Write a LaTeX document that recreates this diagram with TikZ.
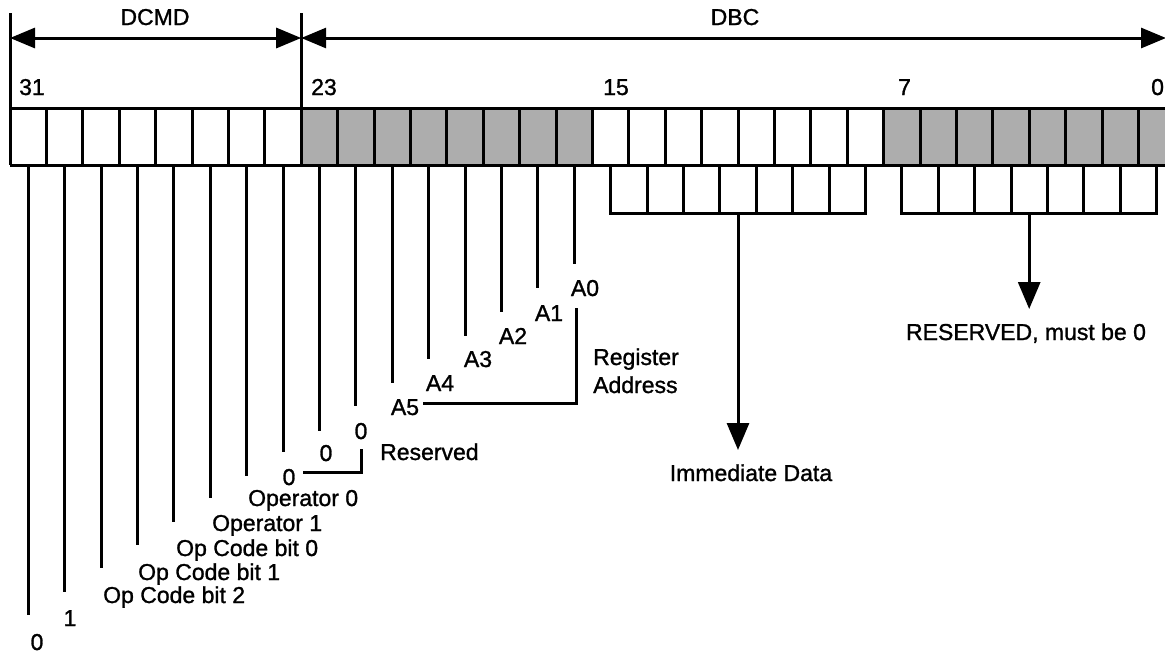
\documentclass[tikz,border=0pt]{standalone}
\usepackage{fontspec}
\setmainfont{Liberation Sans}
\newfontfamily\lblfont{Liberation Sans}[FakeBold=1.2]
\usetikzlibrary{arrows.meta,calc}
\begin{document}
\begin{tikzpicture}[x=1pt,y=-1pt,
  reg/.style={line width=3pt},
  lead/.style={line width=3pt},
  lbl/.style={font=\lblfont\fontsize{23}{27}\selectfont, inner sep=0pt},
  spanarrow/.style={line width=3pt,{Triangle[length=25pt,width=20pt]}-{Triangle[length=25pt,width=20pt]}},
  downarrow/.style={line width=3pt,-{Triangle[length=27pt,width=22pt]}},
  shade/.style={fill=black!32}
]
\useasboundingbox (0,0) rectangle (1165,654);
\clip (0,0) rectangle (1165,654);

% shaded fields
\fill[shade] (301.2,108) rectangle (592.4,165);
\fill[shade] (883.6,108) rectangle (1180,165);

% register row
\draw[reg] (10,108) -- (1180,108) (10,165) -- (1180,165);
\foreach \i in {0,...,32} \draw[reg] ({10+\i*36.4},108) -- ({10+\i*36.4},165);

% field extent ticks and arrows
\coordinate (k31) at (10,13);
\coordinate (k23) at (301.2,13);
\coordinate (r31) at (10,108);
\coordinate (r23) at (301.2,108);
\draw[reg] (k31) -- (r31);
\draw[reg] (k23) -- (r23);
\coordinate (aL) at (10,38);
\coordinate (aM) at (301.2,38);
\coordinate (aR) at (1166,38);
\draw[spanarrow] (aL) -- (aM);
\draw[spanarrow] (aM) -- (aR);
\node[lbl,anchor=base] (dcmd) at (155,25) {DCMD};
\node[lbl,anchor=base] (dbc) at (735,25) {DBC};

% bit numbers
\node[lbl,anchor=base west] (n31) at (19,95) {31};
\node[lbl,anchor=base west] (n23) at (311,95) {23};
\node[lbl,anchor=base west] (n15) at (603,95) {15};
\node[lbl,anchor=base west] (n7) at (898,95) {7};
\node[lbl,anchor=base west] (n0) at (1151,95) {0};

% bit anchors at register bottom
\foreach \b in {0,...,31} \coordinate (t\b) at ({10+(31-\b+0.5)*36.4},165);

% leads for bits 31..16
\foreach \b/\e in {31/615,30/592,29/568,28/545,27/522,26/498,25/476,24/452,23/431,22/406,21/383,20/359,19/336,18/312,17/288,16/264} {
  \coordinate (e\b) at ({10+(31-\b+0.5)*36.4},\e);
  \draw[lead] (t\b) -- (e\b);
}

% labels
\node[lbl,anchor=base] (l31) at (37,650) {0};
\node[lbl,anchor=base] (l30) at (70,626) {1};
\node[lbl,anchor=base west] (l29) at (103,603) {Op Code bit 2};
\node[lbl,anchor=base west] (l28) at (138,580) {Op Code bit 1};
\node[lbl,anchor=base west] (l27) at (176,556) {Op Code bit 0};
\node[lbl,anchor=base west] (l26) at (212,531) {Operator 1};
\node[lbl,anchor=base west] (l25) at (248,506) {Operator 0};
\node[lbl,anchor=base] (l24) at (289,485) {0};
\node[lbl,anchor=base] (l23) at (326,461) {0};
\node[lbl,anchor=base] (l22) at (361,439) {0};
\node[lbl,anchor=base west] (res) at (380,460) {Reserved};
\node[lbl,anchor=base] (l21) at (405,415) {A5};
\node[lbl,anchor=base] (l20) at (440,391) {A4};
\node[lbl,anchor=base] (l19) at (478,367) {A3};
\node[lbl,anchor=base] (l18) at (513,344) {A2};
\node[lbl,anchor=base] (l17) at (549,321) {A1};
\node[lbl,anchor=base] (l16) at (585,296) {A0};
\node[lbl,anchor=base west] (reg1) at (593,365) {Register};
\node[lbl,anchor=base west] (reg2) at (593,393) {Address};

% brackets
\coordinate (rb1) at (303,472);
\coordinate (rb2) at (361,472);
\coordinate (rb3) at (361,449);
\draw[lead] (rb1) -- (rb2) -- (rb3);
\coordinate (ab1) at (423,403);
\coordinate (ab2) at (576,403);
\coordinate (ab3) at (576,308);
\draw[lead] (ab1) -- (ab2) -- (ab3);

% combs for bits 15..8 and 7..0
\foreach \b in {15,...,8} {
  \coordinate (c\b) at ({10+(31-\b+0.5)*36.4},213);
  \draw[reg] (t\b) -- (c\b);
}
\foreach \b in {7,...,0} {
  \coordinate (c\b) at ({10+(31-\b+0.5)*36.4},213);
  \draw[reg] (t\b) -- (c\b);
}
\draw[reg] ($(c15)+(-1.5,0)$) -- ($(c8)+(1.5,0)$);
\draw[reg] ($(c7)+(-1.5,0)$) -- ($(c0)+(1.5,0)$);

\coordinate (imm0) at ($(c15)!0.5!(c8)$);
\coordinate (imm1) at ($(imm0)+(0,237)$);
\draw[downarrow] (imm0) -- (imm1);
\node[lbl,anchor=base] (imm) at (751,481) {Immediate Data};

\coordinate (rsv0) at ($(c7)!0.5!(c0)$);
\coordinate (rsv1) at ($(rsv0)+(0,96)$);
\draw[downarrow] (rsv0) -- (rsv1);
\node[lbl,anchor=base] (rsv) at (1026,340) {RESERVED, must be 0};
\end{tikzpicture}
\end{document}
